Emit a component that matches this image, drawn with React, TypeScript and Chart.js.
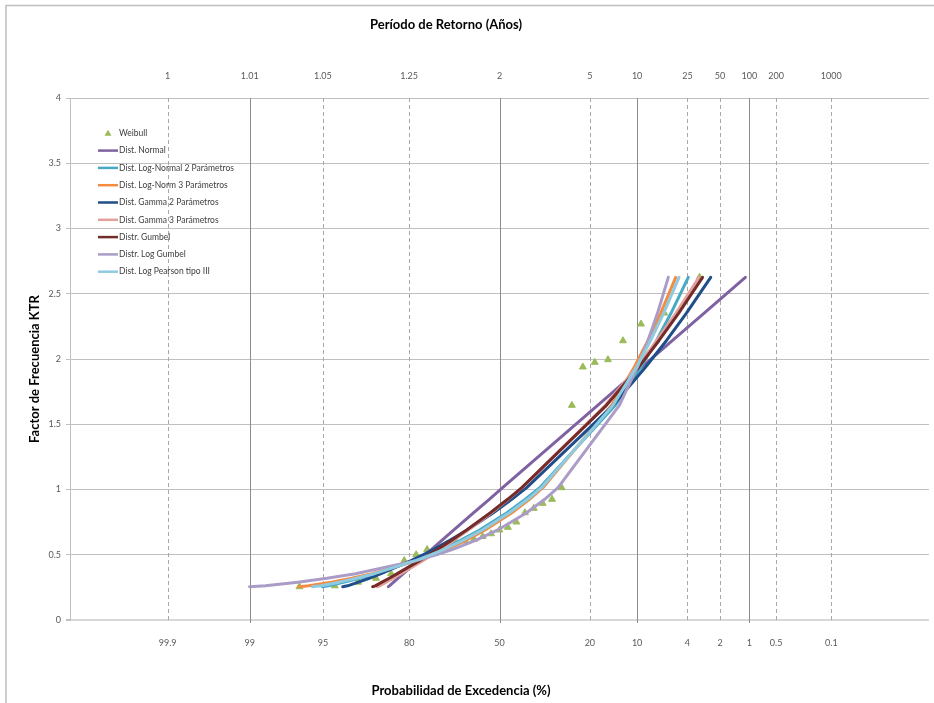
import { useEffect, useRef } from "react";
import { Chart, registerables } from "chart.js";

Chart.register(...registerables);

// Probability axis: exceedance probability (%) with the matching return period (years)
const exceedanceTicks = [99.9, 99, 95, 80, 50, 20, 10, 4, 2, 1, 0.5, 0.1];
const exceedanceLabels = ["99.9", "99", "95", "80", "50", "20", "10", "4", "2", "1", "0.5", "0.1"];
const returnPeriodLabels = ["1", "1.01", "1.05", "1.25", "2", "5", "10", "25", "50", "100", "200", "1000"];
const solidGridTicks = [99, 50, 10, 1];

// Weibull plotting positions (standard normal variate) and observed KTR, largest first
const weibullZ = [
  1.863, 1.534, 1.318, 1.15, 1.01, 0.887, 0.776, 0.674, 0.579, 0.489, 0.402, 0.319, 0.237, 0.157, 0.078, 0,
  -0.078, -0.157, -0.237, -0.319, -0.402, -0.489, -0.579, -0.674, -0.776, -0.887, -1.01, -1.15, -1.318, -1.534, -1.863,
];
const weibullKtr = [
  2.626, 2.352, 2.268, 2.14, 1.995, 1.975, 1.939, 1.645, 1.014, 0.925, 0.894, 0.856, 0.822, 0.751, 0.71, 0.69,
  0.661, 0.64, 0.618, 0.605, 0.595, 0.58, 0.56, 0.54, 0.5, 0.455, 0.355, 0.32, 0.29, 0.262, 0.255,
];

// KTR levels at which each fitted distribution is plotted
const ktrLevels = [0.255, 0.262, 0.29, 0.32, 0.355, 0.455, 0.5, 0.54, 0.61, 0.69, 0.822, 0.925, 1.014, 1.645, 1.939, 2.14, 2.352, 2.626];

// Standard normal variate of each fitted distribution at the levels above
const normalZ = [-1.035, -1.025, -0.986, -0.944, -0.895, -0.755, -0.691, -0.635, -0.537, -0.425, -0.24, -0.095, 0.029, 0.914, 1.327, 1.609, 1.906, 2.29];
const logNormal2Z = [-1.65, -1.593, -1.445, -1.302, -1.151, -0.79, -0.653, -0.541, -0.364, -0.185, 0.07, 0.241, 0.375, 1.078, 1.318, 1.461, 1.598, 1.758];
const logNormal3Z = [-1.87, -1.776, -1.567, -1.376, -1.186, -0.767, -0.617, -0.498, -0.314, -0.134, 0.115, 0.279, 0.404, 1.045, 1.256, 1.382, 1.502, 1.641];
const gamma2Z = [-1.46, -1.415, -1.314, -1.213, -1.103, -0.824, -0.712, -0.616, -0.463, -0.3, -0.057, 0.114, 0.253, 1.058, 1.361, 1.554, 1.741, 1.967];
const gamma3Z = [-1.138, -1.118, -1.055, -0.99, -0.917, -0.714, -0.628, -0.554, -0.428, -0.291, -0.075, 0.081, 0.21, 0.986, 1.283, 1.464, 1.644, 1.858];
const gumbelZ = [-1.181, -1.157, -1.094, -1.027, -0.952, -0.744, -0.656, -0.579, -0.448, -0.306, -0.085, 0.076, 0.208, 0.996, 1.298, 1.484, 1.669, 1.891];
const logGumbelZ = [-2.328, -2.18, -1.878, -1.607, -1.341, -0.779, -0.589, -0.441, -0.222, -0.016, 0.253, 0.421, 0.545, 1.116, 1.285, 1.382, 1.472, 1.572];
const logPearson3Z = [-1.742, -1.663, -1.493, -1.332, -1.165, -0.78, -0.637, -0.522, -0.34, -0.16, 0.092, 0.262, 0.391, 1.057, 1.276, 1.406, 1.529, 1.672];

const seriesLabels = [
  "Dist. Normal",
  "Dist. Log-Normal 2 Parámetros",
  "Dist. Log-Norm 3 Parámetros",
  "Dist. Gamma 2 Parámetros",
  "Dist. Gamma 3 Parámetros",
  "Distr. Gumbel",
  "Distr. Log Gumbel",
  "Dist. Log Pearson tipo III",
];
const seriesZ = [normalZ, logNormal2Z, logNormal3Z, gamma2Z, gamma3Z, gumbelZ, logGumbelZ, logPearson3Z];
const seriesColors = ["#7F62A1", "#47AAC4", "#F38B40", "#1F4E8A", "#E3A19E", "#742B29", "#AA9CC6", "#8FCBE0"];
const weibullColor = "#9BBB59";

const FONT = "Lato, 'DejaVu Sans', sans-serif";

// Inverse of the standard normal CDF (Acklam)
function normInv(p: number): number {
  const a = [-39.69683028665376, 220.9460984245205, -275.9285104469687, 138.357751867269, -30.66479806614716, 2.506628277459239];
  const b = [-54.47609879822406, 161.5858368580409, -155.6989798598866, 66.80131188771972, -13.28068155288572];
  const c = [-0.007784894002430293, -0.3223964580411365, -2.400758277161838, -2.549732539343734, 4.374664141464968, 2.938163982698783];
  const d = [0.007784695709041462, 0.3224671290700398, 2.445134137142996, 3.754408661907416];
  const pl = 0.02425;
  if (p < pl) {
    const q = Math.sqrt(-2 * Math.log(p));
    return (((((c[0] * q + c[1]) * q + c[2]) * q + c[3]) * q + c[4]) * q + c[5]) / ((((d[0] * q + d[1]) * q + d[2]) * q + d[3]) * q + 1);
  }
  if (p <= 1 - pl) {
    const q = p - 0.5;
    const r = q * q;
    return ((((((a[0] * r + a[1]) * r + a[2]) * r + a[3]) * r + a[4]) * r + a[5]) * q) / (((((b[0] * r + b[1]) * r + b[2]) * r + b[3]) * r + b[4]) * r + 1);
  }
  const q = Math.sqrt(-2 * Math.log(1 - p));
  return -(((((c[0] * q + c[1]) * q + c[2]) * q + c[3]) * q + c[4]) * q + c[5]) / ((((d[0] * q + d[1]) * q + d[2]) * q + d[3]) * q + 1);
}

const tickZ = exceedanceTicks.map((p) => normInv(1 - p / 100));

// Vertical probability grid: solid at key probabilities, dashed elsewhere
const probabilityGrid = {
  id: "probabilityGrid",
  beforeDatasetsDraw(chart: any) {
    const { ctx, chartArea } = chart;
    const xs = chart.scales.x;
    ctx.save();
    exceedanceTicks.forEach((p, i) => {
      const px = Math.round(xs.getPixelForValue(tickZ[i])) + 0.5;
      const solid = solidGridTicks.includes(p);
      ctx.beginPath();
      ctx.lineWidth = 1;
      ctx.strokeStyle = solid ? "#8C8C8C" : "#A8A8A8";
      ctx.setLineDash(solid ? [] : [4, 3]);
      ctx.moveTo(px, chartArea.top);
      ctx.lineTo(px, chartArea.bottom + 3);
      ctx.stroke();
    });
    ctx.restore();
  },
};

// Axis titles, in-plot legend and outer frame
const decorations = {
  id: "decorations",
  afterDraw(chart: any) {
    const { ctx } = chart;
    ctx.save();
    ctx.strokeStyle = "#BFBFBF";
    ctx.lineWidth = 1.5;
    ctx.beginPath();
    ctx.moveTo(6, 703);
    ctx.lineTo(6, 5.5);
    ctx.lineTo(934, 5.5);
    ctx.stroke();

    ctx.fillStyle = "#000000";
    ctx.font = `bold 13px ${FONT}`;
    ctx.textAlign = "center";
    ctx.textBaseline = "middle";
    ctx.fillText("Período de Retorno (Años)", 446, 25);
    ctx.fillText("Probabilidad de Excedencia (%)", 461, 691);
    ctx.save();
    ctx.translate(35, 369);
    ctx.rotate(-Math.PI / 2);
    ctx.fillText("Factor de Frecuencia KTR", 0, 0);
    ctx.restore();

    ctx.font = `8.5px ${FONT}`;
    ctx.textAlign = "left";
    chart.data.datasets.forEach((ds: any, i: number) => {
      const y = 133.3 + i * 17.3;
      if (ds.showLine === false) {
        ctx.fillStyle = ds.backgroundColor;
        ctx.beginPath();
        ctx.moveTo(108, y - 3.5);
        ctx.lineTo(111.5, y + 2.5);
        ctx.lineTo(104.5, y + 2.5);
        ctx.closePath();
        ctx.fill();
      } else {
        ctx.strokeStyle = ds.borderColor;
        ctx.lineWidth = 2.5;
        ctx.beginPath();
        ctx.moveTo(98, y);
        ctx.lineTo(118, y);
        ctx.stroke();
      }
      ctx.fillStyle = "#404040";
      ctx.fillText(ds.label, 119, y);
    });
    ctx.restore();
  },
};

export default function App() {
  const canvasRef = useRef<HTMLCanvasElement | null>(null);

  useEffect(() => {
    if (!canvasRef.current) return;
    Chart.defaults.font.family = FONT;

    const datasets: any[] = [
      {
        label: "Weibull",
        data: weibullZ.map((z, i) => ({ x: z, y: weibullKtr[i] })),
        showLine: false,
        pointStyle: "triangle",
        pointRadius: 4,
        backgroundColor: weibullColor,
        borderColor: weibullColor,
        borderWidth: 1,
        order: 20,
      },
      ...seriesLabels.map((label, s) => ({
        label,
        data: seriesZ[s].map((z, i) => ({ x: z, y: ktrLevels[i] })),
        showLine: true,
        pointRadius: 0,
        borderWidth: 3,
        borderColor: seriesColors[s],
        backgroundColor: seriesColors[s],
        borderCapStyle: "round",
        borderJoinStyle: "round",
        tension: 0,
        order: seriesLabels.length - s,
      })),
    ];

    const tickFont = { size: 9, family: FONT };

    const chart = new Chart(canvasRef.current, {
      type: "scatter",
      data: { datasets },
      options: {
        animation: false,
        responsive: true,
        maintainAspectRatio: false,
        layout: { padding: { left: 0, right: 4, top: 0, bottom: 0 } },
        plugins: {
          legend: { display: false },
          tooltip: { enabled: false },
          title: { display: false },
        },
        scales: {
          x: {
            type: "linear",
            position: "bottom",
            min: -4,
            max: 4,
            afterBuildTicks: (s: any) => {
              s.ticks = tickZ.map((v) => ({ value: v }));
            },
            afterFit: (s: any) => {
              s.height = 83;
            },
            grid: { display: false, drawTicks: false },
            border: { display: false },
            ticks: {
              autoSkip: false,
              maxRotation: 0,
              padding: 18,
              color: "#595959",
              font: tickFont,
              callback: (_v: any, i: number) => exceedanceLabels[i],
            },
          },
          x2: {
            type: "linear",
            position: "top",
            min: -4,
            max: 4,
            afterBuildTicks: (s: any) => {
              s.ticks = tickZ.map((v) => ({ value: v }));
            },
            afterFit: (s: any) => {
              s.height = 98;
            },
            grid: { display: false, drawTicks: false },
            border: { display: false },
            ticks: {
              autoSkip: false,
              maxRotation: 0,
              padding: 17,
              color: "#595959",
              font: tickFont,
              callback: (_v: any, i: number) => returnPeriodLabels[i],
            },
          },
          y: {
            type: "linear",
            min: 0,
            max: 4,
            afterFit: (s: any) => {
              s.width = 70;
            },
            grid: {
              color: (c: any) => (c.tick && c.tick.value === 0 ? "#D9D9D9" : "#C0C0C0"),
              lineWidth: (c: any) => (c.tick && c.tick.value === 0 ? 2 : 1),
              tickLength: 4,
              tickColor: "#C0C0C0",
            },
            border: { color: "#C0C0C0", width: 1 },
            ticks: {
              stepSize: 0.5,
              padding: 5,
              color: "#595959",
              font: tickFont,
              callback: (v: any) => `${Number(v)}`,
            },
          },
        },
      },
      plugins: [probabilityGrid, decorations],
    } as any);

    return () => chart.destroy();
  }, []);

  return (
    <div style={{ position: "absolute", left: 0, top: 0, width: 934, height: 703, background: "#ffffff" }}>
      <canvas ref={canvasRef} />
    </div>
  );
}
